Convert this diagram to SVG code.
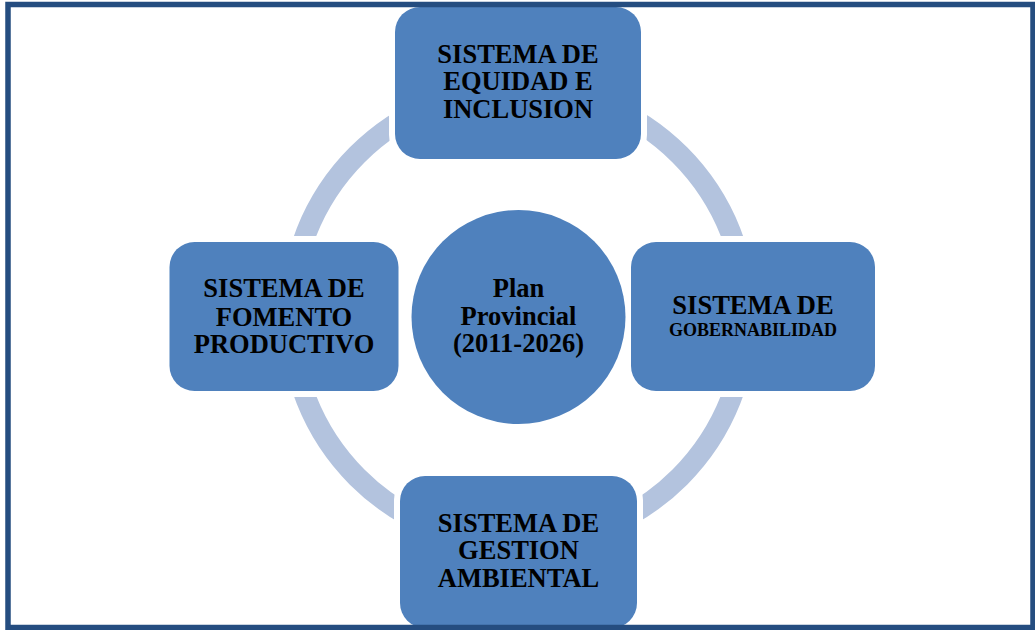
<svg xmlns="http://www.w3.org/2000/svg" width="1035" height="630" viewBox="0 0 1035 630">
<style>
.node{fill:#4f81bd;}
.t{font-family:"Liberation Serif","Times New Roman",serif;font-weight:bold;font-size:26.5px;fill:#000;text-anchor:middle;}
.s{font-size:18px;}
.ring{fill:none;stroke:#b3c3de;stroke-width:21;}
</style>
<defs>
<mask id="gap" maskUnits="userSpaceOnUse" x="0" y="0" width="1035" height="630">
<rect x="0" y="0" width="1035" height="630" fill="#fff"/>
<rect x="389" y="1" width="258" height="164" rx="30" fill="#000"/>
<rect x="163.5" y="236" width="241" height="161" rx="30" fill="#000"/>
<rect x="625" y="236" width="256" height="161" rx="30" fill="#000"/>
<rect x="394" y="470" width="249" height="161" rx="30" fill="#000"/>
</mask>
</defs>
<rect x="0" y="0" width="1035" height="630" fill="#fff"/>
<g id="connectors">
<circle class="ring" cx="518.5" cy="316" r="228" mask="url(#gap)"/>
</g>
<g id="center">
<circle class="node" cx="518.5" cy="317" r="107"/>
<text class="t" x="518.5" y="297">Plan</text>
<text class="t" x="518.5" y="325">Provincial</text>
<text class="t" x="518.5" y="352">(2011-2026)</text>
</g>
<g id="equidad">
<rect class="node" x="395" y="7" width="246" height="152" rx="25"/>
<text class="t" x="518" y="63">SISTEMA DE</text>
<text class="t" x="518" y="90">EQUIDAD E</text>
<text class="t" x="518" y="117.5">INCLUSION</text>
</g>
<g id="fomento">
<rect class="node" x="169.5" y="242" width="229" height="149" rx="25"/>
<text class="t" x="284" y="297">SISTEMA DE</text>
<text class="t" x="284" y="325.5">FOMENTO</text>
<text class="t" x="284" y="352.5">PRODUCTIVO</text>
</g>
<g id="gobernabilidad">
<rect class="node" x="631" y="242" width="244" height="149" rx="25"/>
<text class="t" x="753" y="314">SISTEMA DE</text>
<text class="t s" x="753" y="336">GOBERNABILIDAD</text>
</g>
<g id="ambiental">
<rect class="node" x="400" y="476" width="237" height="152" rx="25"/>
<text class="t" x="518.5" y="532">SISTEMA DE</text>
<text class="t" x="518.5" y="559">GESTION</text>
<text class="t" x="518.5" y="586.5">AMBIENTAL</text>
</g>
<rect x="8" y="4.5" width="1025" height="623" fill="none" stroke="#254d80" stroke-width="5.5"/>
</svg>
